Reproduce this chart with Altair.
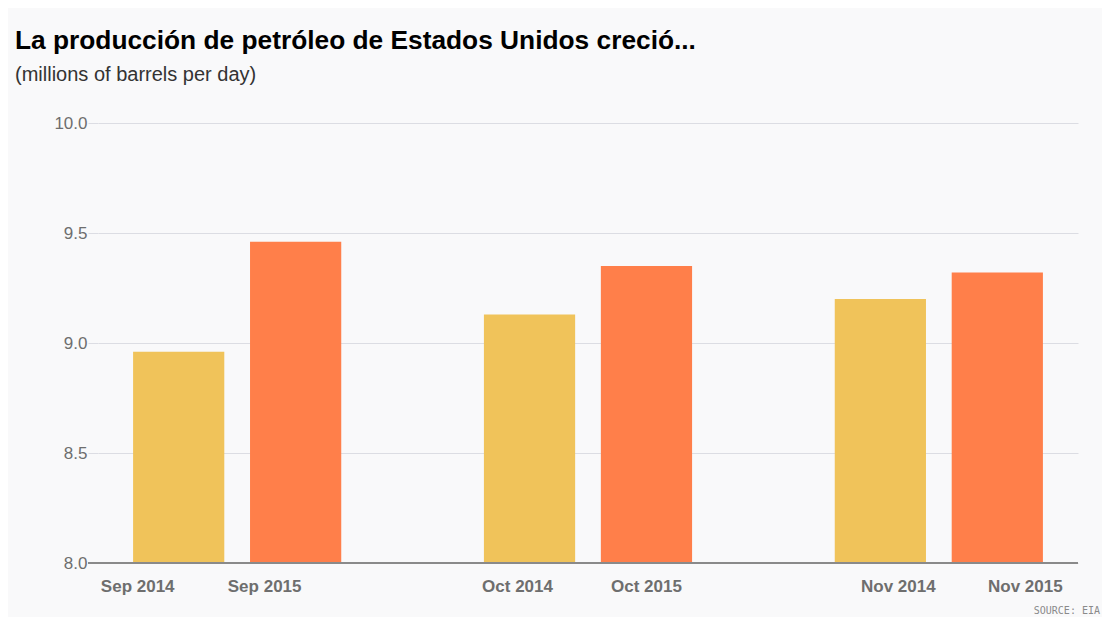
import altair as alt
import pandas as pd

# Data
categories = ["Sep 2014", "Sep 2015", "Oct 2014", "Oct 2015", "Nov 2014", "Nov 2015"]
years = ["2014", "2015", "2014", "2015", "2014", "2015"]
values = [8.96, 9.46, 9.13, 9.35, 9.20, 9.32]

# Domain including blank spacer slots between months
x_domain = ["Sep 2014", "Sep 2015", " ", "Oct 2014", "Oct 2015", "  ", "Nov 2014", "Nov 2015"]
y_ticks = [8.0, 8.5, 9.0, 9.5, 10.0]
year_colors = ["#f0c35a", "#ff7f4a"]

df = pd.DataFrame({"month": categories, "year": years, "value": values})

W, H = 980, 440
FONT = "Liberation Sans"
yscale = alt.Scale(domain=[8.0, 10.0], nice=False, zero=False)

# the original's month labels sit on a slightly wider grid than the bars
label_shift = (
    "datum.value == 'Sep 2014' ? -41 : datum.value == 'Sep 2015' ? -31 : "
    "datum.value == 'Oct 2014' ? -12 : datum.value == 'Oct 2015' ? 0 : "
    "datum.value == 'Nov 2014' ? 18 : datum.value == 'Nov 2015' ? 28 : 0"
)

bars = alt.Chart(df).mark_bar().encode(
    x=alt.X(
        "month:N",
        scale=alt.Scale(domain=x_domain, paddingInner=0.22, paddingOuter=0.3),
        sort=x_domain,
        axis=alt.Axis(
            title=None,
            labelAngle=0,
            labelFontSize=17,
            labelFontWeight="bold",
            labelColor="#6e6e6e",
            labelFont=FONT,
            labelPadding=15,
            labelOffset=alt.ExprRef(label_shift),
            ticks=False,
            domain=False,
            grid=False,
        ),
    ),
    y=alt.Y(
        "value:Q",
        scale=yscale,
        axis=alt.Axis(
            title=None,
            values=y_ticks,
            format=".1f",
            labelFontSize=17,
            labelColor="#6e6e6e",
            labelFont=FONT,
            labelPadding=1,
            tickSize=10,
            tickColor="#dcdde3",
            gridColor="#dcdde3",
            domain=False,
        ),
    ),
    y2=alt.datum(8.0),
    color=alt.Color(
        "year:N",
        scale=alt.Scale(domain=["2014", "2015"], range=year_colors),
        legend=None,
    ),
)

baseline = alt.Chart(pd.DataFrame({"v": [8.0]})).mark_rule(
    color="#8a8a8a", strokeWidth=2
).encode(y=alt.Y("v:Q", scale=yscale), x=alt.value(-10), x2=alt.value(W))

source = alt.Chart(pd.DataFrame({"t": ["SOURCE: EIA"]})).mark_text(
    align="right", baseline="alphabetic", fontSize=10, font="DejaVu Sans Mono", color="#8a8a8a"
).encode(text="t:N", x=alt.value(W + 22), y=alt.value(H + 51))

chart = alt.layer(bars, baseline, source).properties(
    width=W,
    height=H,
    autosize=alt.AutoSizeParams(type="none"),
    padding={"left": 90, "top": 115, "right": 24, "bottom": 54},
    background="#f9f9fa",
    title=alt.TitleParams(
        text="La producción de petróleo de Estados Unidos creció...",
        subtitle="(millions of barrels per day)",
        anchor="start",
        frame="group",
        dx=-83,
        offset=29,
        font=FONT,
        fontSize=26.3,
        fontWeight="bold",
        color="#000000",
        subtitleFont=FONT,
        subtitleFontSize=20,
        subtitleColor="#333333",
        subtitlePadding=11,
    ),
).configure_view(stroke=None)

chart.save("out.html", embed_options={"renderer": "svg", "actions": False})
